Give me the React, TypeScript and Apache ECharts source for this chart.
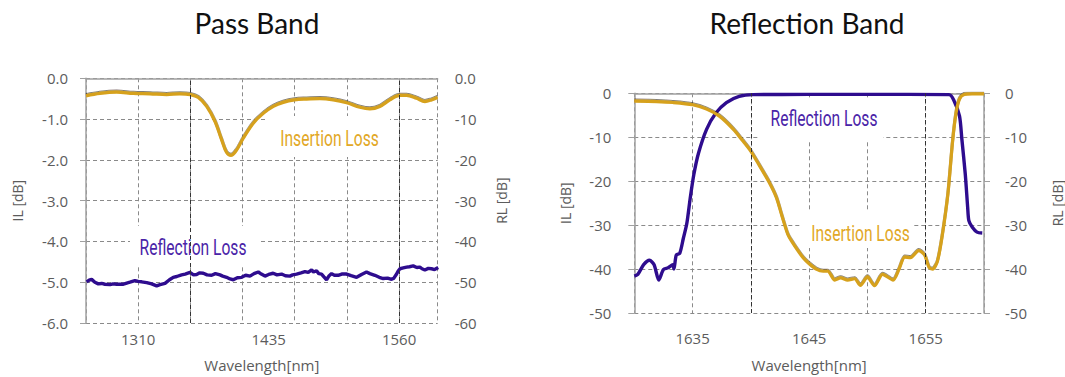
import React, { useEffect, useRef } from "react";
import * as echarts from "echarts";

// ---- Pass Band (left) ----
const passIlNm = [1260, 1273.4, 1289.4, 1305.3, 1321.3, 1337.3, 1350, 1359.9, 1367.6, 1375.6, 1383.6, 1390, 1394.7, 1398.9, 1404.3, 1410.7, 1420.3, 1429.9, 1439.5, 1449, 1459.9, 1471.4, 1484.1, 1496.9, 1509.7, 1522.4, 1532, 1541.6, 1551.2, 1560.8, 1567.1, 1576.7, 1584.7, 1591.1, 1596.8];
const passIlDb = [-0.43, -0.37, -0.34, -0.37, -0.38, -0.4, -0.38, -0.4, -0.47, -0.69, -1.06, -1.51, -1.82, -1.89, -1.76, -1.47, -1.1, -0.86, -0.69, -0.59, -0.53, -0.51, -0.5, -0.53, -0.6, -0.71, -0.75, -0.69, -0.53, -0.42, -0.42, -0.49, -0.57, -0.53, -0.47];

const passRlNm = [1260.6, 1263, 1265.4, 1268.5, 1271.8, 1275, 1278.2, 1283, 1286, 1289.4, 1295.8, 1299, 1302.1, 1306.9, 1310, 1313.3, 1318.1, 1322.9, 1327.7, 1331, 1335.7, 1340, 1343.6, 1347, 1351.6, 1355, 1359.6, 1363, 1366, 1369, 1372.4, 1376, 1380.4, 1384, 1388.4, 1391, 1394.7, 1398, 1401.1, 1405, 1409.1, 1413, 1417.1, 1421, 1425.1, 1428, 1431.5, 1435, 1439.4, 1443, 1447.4, 1451, 1455.4, 1458, 1461.8, 1466, 1469.8, 1473, 1476.2, 1478, 1480.9, 1483, 1485.7, 1488, 1490.5, 1493, 1495.3, 1498, 1501.7, 1505, 1509.7, 1514, 1519.3, 1524, 1528.8, 1532, 1536.8, 1541, 1544.8, 1549, 1552.8, 1555, 1557.6, 1559, 1560.8, 1564, 1567.2, 1570, 1573.5, 1577, 1579.9, 1582, 1584.7, 1588, 1591.1, 1594, 1597.5];
const passRlDb = [-49.9, -49.5, -49.3, -50.0, -50.4, -50.3, -50.5, -50.6, -50.4, -50.5, -50.5, -50.2, -50.0, -49.6, -49.8, -49.9, -50.1, -50.4, -50.9, -50.6, -50.3, -49.4, -48.8, -48.6, -48.2, -48.0, -47.6, -48.2, -48.1, -47.7, -47.8, -48.2, -48.3, -47.9, -48.2, -48.5, -48.8, -49.2, -49.4, -48.9, -48.8, -48.3, -48.5, -47.9, -47.5, -48.0, -48.5, -48.1, -47.8, -48.2, -48.0, -48.4, -48.5, -48.2, -48.0, -47.7, -47.4, -47.6, -47.0, -47.5, -47.2, -47.9, -48.0, -48.7, -49.4, -48.4, -47.9, -48.3, -48.3, -48.0, -48.0, -48.4, -48.8, -48.1, -47.5, -47.9, -48.3, -48.8, -49.1, -49.0, -49.3, -49.0, -48.0, -47.3, -46.7, -46.5, -46.3, -46.2, -46.0, -46.4, -46.3, -46.7, -47.0, -46.6, -46.7, -46.9, -46.4];

const passXTicks = [1310, 1435, 1560];
const passIlTicks = [0, -1, -2, -3, -4, -5, -6];
const passRlTicks = [0, -10, -20, -30, -40, -50, -60];

// ---- Reflection Band (right) ----
const reflIlNm = [1630.0, 1631.9, 1633.3, 1635.0, 1636.2, 1637.3, 1638.5, 1639.3, 1640.0, 1640.7, 1641.6, 1642.2, 1642.7, 1643.2, 1643.7, 1644.5, 1645.0, 1645.6, 1646.2, 1646.6, 1647.2, 1647.7, 1648.3, 1648.9, 1649.4, 1650.0, 1650.6, 1651.3, 1652.2, 1652.7, 1653.2, 1653.7, 1654.4, 1654.9, 1655.3, 1655.6, 1656.0, 1656.4, 1656.9, 1657.3, 1657.6, 1657.9, 1658.3, 1659.0, 1660.0];
const reflIlDb = [-1.8, -1.9, -2.1, -2.6, -3.6, -5.2, -8.2, -10.8, -13.2, -16.3, -20.4, -23.8, -28.2, -32.3, -34.5, -37.5, -38.8, -40.0, -40.5, -40.5, -42.5, -42.0, -42.5, -42.2, -43.7, -41.8, -43.8, -41.2, -42.5, -40.1, -37.3, -37.4, -35.8, -36.8, -39.7, -40.0, -38.3, -32.7, -23.0, -11.1, -4.5, -1.3, -0.3, -0.15, -0.15];

const reflRlNm = [1630.0, 1630.3, 1630.8, 1631.3, 1631.7, 1632.1, 1632.5, 1632.9, 1633.3, 1633.4, 1633.6, 1633.9, 1634.2, 1634.5, 1634.8, 1635.1, 1635.5, 1636.2, 1637.0, 1637.9, 1639.0, 1640.2, 1645.0, 1650.0, 1657.0, 1657.4, 1657.9, 1658.1, 1658.4, 1658.6, 1658.7, 1659.0, 1659.4, 1659.85];
const reflRlDb = [-41.6, -41.2, -39.0, -38.0, -39.0, -42.5, -40.1, -39.7, -39.0, -40.0, -36.8, -36.4, -33.1, -29.7, -23.8, -18.6, -13.7, -8.2, -4.5, -2.1, -0.7, -0.3, -0.25, -0.25, -0.3, -1.5, -5.2, -10.4, -18.6, -26.0, -29.0, -30.5, -31.6, -31.8];

const reflXTicks = [1635, 1645, 1655];
const reflDbTicks = [0, -10, -20, -30, -40, -50];

const titles = ["Pass Band", "Reflection Band"];
const ilName = "Insertion Loss";
const rlName = "Reflection Loss";

const zip = (xs: number[], ys: number[]) => xs.map((x, i) => [x, ys[i]]);

const GOLD = "#D6A11C";
const PURPLE = "#2E0C8E";
const GRID = "#8a8a8a";
const LABEL = "#5c5c5c";
const AXIS = "#a0a0a0";
const TICK_FONT = "'Open Sans', sans-serif";

export default function App() {
  const ref = useRef<HTMLDivElement>(null);
  useEffect(() => {
    if (!ref.current) return;
    const chart = echarts.init(ref.current, undefined, { renderer: "svg" });

    const labelStyle = { color: LABEL, fontFamily: TICK_FONT, fontSize: 15 };
    const nameStyle = { color: LABEL, fontFamily: TICK_FONT, fontSize: 14 };
    const splitDash = { show: true, lineStyle: { color: GRID, type: [4, 3] as any, width: 1 } };

    const bottomX = (grid: number, min: number, max: number, interval: number, ticks: number[], margin: number, nameGap: number) => ({
      type: "value",
      gridIndex: grid,
      min,
      max,
      interval,
      position: "bottom",
      axisLine: { show: false },
      axisTick: { show: false },
      axisLabel: {
        ...labelStyle,
        margin,
        showMinLabel: true,
        showMaxLabel: true,
        formatter: (v: number) => (ticks.some((t) => Math.abs(t - v) < 1e-6) ? String(v) : ""),
        customValues: grid === 0 ? ticks : undefined,
      },
      splitLine: splitDash,
      name: "Wavelength[nm]",
      nameLocation: "middle",
      nameGap,
      nameTextStyle: { ...nameStyle, fontSize: 15 },
    });
    const topX = (grid: number, min: number, max: number) => ({
      type: "value",
      gridIndex: grid,
      min,
      max,
      position: "top",
      axisLine: { show: true, lineStyle: { color: AXIS, width: 1.5 } },
      axisTick: { show: false },
      axisLabel: { show: false },
      splitLine: { show: false },
    });
    const yAx = (grid: number, pos: string, min: number, interval: number, fmt: (v: number) => string, name: string, nameGap: number, margin: number, showLine: boolean, split: boolean) => ({
      type: "value",
      gridIndex: grid,
      position: pos,
      min,
      max: 0,
      interval,
      axisLine: { show: showLine, lineStyle: { color: AXIS, width: 1.5 } },
      axisTick: { show: showLine, length: 6, lineStyle: { color: AXIS } },
      axisLabel: { ...labelStyle, margin, formatter: fmt },
      splitLine: split ? splitDash : { show: false },
      name,
      nameLocation: "middle",
      nameRotate: 90,
      nameGap,
      nameTextStyle: nameStyle,
    });

    const darkLine = (vals: number[]) => ({
      silent: true,
      symbol: "none",
      label: { show: false },
      lineStyle: { color: "#333", type: [4, 3] as any, width: 1 },
      data: vals.map((v) => ({ xAxis: v })),
    });

    const ilLine = { color: GOLD, width: 3.2, shadowColor: "rgba(30,20,0,0.55)", shadowBlur: 1, shadowOffsetY: -1 };
    const rlLine = { color: PURPLE, width: 3.4 };

    const box = (x: number, y: number, w: number, h: number) => ({
      type: "rect",
      shape: { x, y, width: w, height: h },
      style: { fill: "#ffffff" },
      z: 1,
      silent: true,
    });
    const callout = (text: string, x: number, y: number, color: string) => ({
      type: "text",
      x,
      y,
      z: 5,
      scaleX: 0.71,
      silent: true,
      style: {
        text,
        fill: color,
        font: "22px Roboto, sans-serif",
        align: "center",
        verticalAlign: "middle",
      },
    });
    const title = (text: string, x: number) => ({
      type: "text",
      x,
      y: 23,
      z: 5,
      style: { text, fill: "#111", font: "normal 28px Lato, sans-serif", align: "center", verticalAlign: "middle" },
    });

    chart.setOption({
      animation: false,
      backgroundColor: "#ffffff",
      grid: [
        { left: 86, top: 78.3, width: 351.7, height: 245 },
        { left: 634.3, top: 93.3, width: 349.7, height: 224.4 },
      ],
      xAxis: [
        bottomX(0, 1260, 1597, 50, passXTicks, 8, 34),
        topX(0, 1260, 1597),
        bottomX(1, 1630, 1660, 5, reflXTicks, 17, 44),
        topX(1, 1630, 1660),
      ],
      yAxis: [
        yAx(0, "left", -6, 1, (v) => (passIlTicks.includes(v) ? v.toFixed(1) : ""), "IL [dB]", 62, 18, true, true),
        yAx(0, "right", -60, 10, (v) => (passRlTicks.includes(v) ? (v === 0 ? "0.0" : String(v)) : ""), "RL [dB]", 57, 17, false, false),
        yAx(1, "left", -50, 10, (v) => (reflDbTicks.includes(v) ? String(v) : ""), "IL [dB]", 62, 23, true, true),
        yAx(1, "right", -50, 10, (v) => (reflDbTicks.includes(v) ? String(v) : ""), "RL [dB]", 66, 21, true, false),
      ],
      series: [
        {
          type: "line",
          name: ilName,
          xAxisIndex: 0,
          yAxisIndex: 0,
          data: zip(passIlNm, passIlDb),
          smooth: 0.35,
          showSymbol: false,
          lineStyle: ilLine,
          z: 4,
          markLine: darkLine([1360, 1560]),
        },
        {
          type: "line",
          name: rlName,
          xAxisIndex: 0,
          yAxisIndex: 1,
          data: zip(passRlNm, passRlDb),
          showSymbol: false,
          lineStyle: rlLine,
          z: 3,
        },
        {
          type: "line",
          name: ilName,
          xAxisIndex: 2,
          yAxisIndex: 2,
          data: zip(reflIlNm, reflIlDb),
          smooth: 0.25,
          showSymbol: false,
          lineStyle: ilLine,
          z: 4,
          markLine: darkLine([1640, 1655]),
        },
        {
          type: "line",
          name: rlName,
          xAxisIndex: 2,
          yAxisIndex: 3,
          data: zip(reflRlNm, reflRlDb),
          smooth: 0.25,
          showSymbol: false,
          lineStyle: rlLine,
          z: 3,
        },
      ],
      graphic: [
        box(268, 116, 122, 41),
        box(130, 226, 128, 40),
        box(758, 99, 125, 42),
        box(800, 212, 113, 36),
        callout(ilName, 329.5, 138.5, "#E2A827"),
        callout(rlName, 193, 247.5, "#4A24A8"),
        callout(rlName, 824, 119, "#4A24A8"),
        callout(ilName, 860.5, 234, "#E2A827"),
        title(titles[0], 257),
        title(titles[1], 807),
      ],
    });
    return () => chart.dispose();
  }, []);
  return <div ref={ref} style={{ position: "fixed", left: 0, top: 0, width: 1065, height: 377 }} />;
}
